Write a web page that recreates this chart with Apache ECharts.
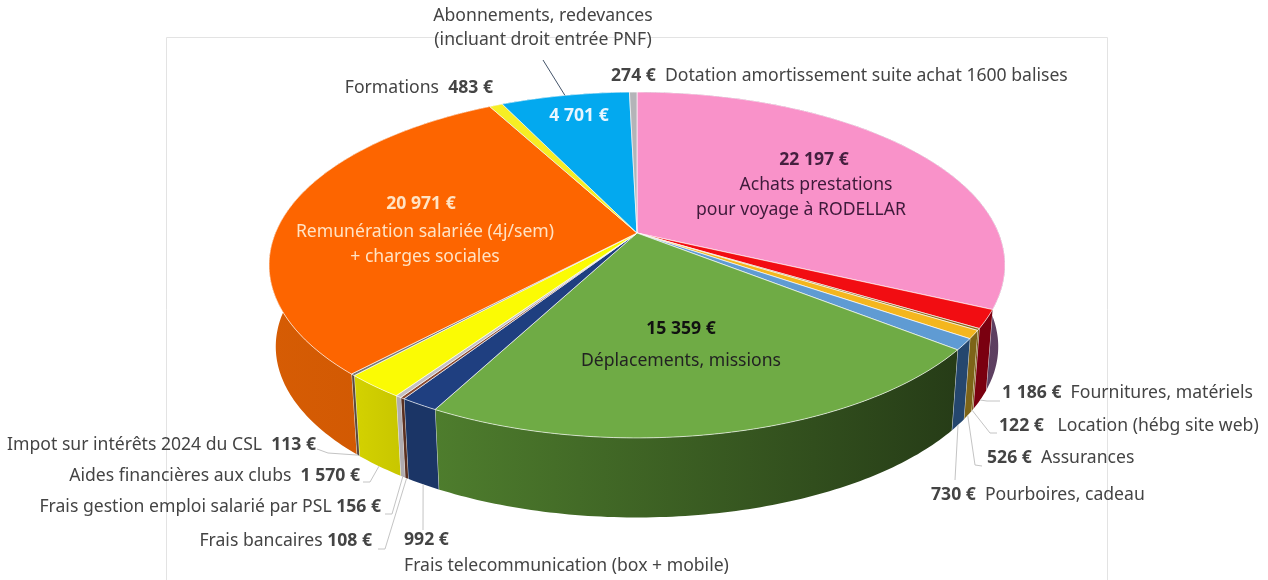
<!DOCTYPE html>
<html>
<head>
<meta charset="utf-8">
<style>
  html, body { margin: 0; background: #fff; }
  #main { width: 1268px; height: 580px; }
</style>
<script src="https://cdn.jsdelivr.net/npm/echarts@6/dist/echarts.min.js"></script>
</head>
<body>
<div id="main"></div>
<script>
// slices, clockwise from the top
const costNames = [
    ['Achats prestations', 'pour voyage à RODELLAR'],
    ['Fournitures, matériels'],
    ['Location (hébg site web)'],
    ['Assurances'],
    ['Pourboires, cadeau'],
    ['Déplacements, missions'],
    ['Frais telecommunication (box + mobile)'],
    ['Frais bancaires'],
    ['Frais gestion emploi salarié par PSL'],
    ['Aides financières aux clubs'],
    ['Impot sur intérêts 2024 du CSL'],
    ['Remunération salariée (4j/sem)', '+ charges sociales'],
    ['Formations'],
    ['Abonnements, redevances', '(incluant droit entrée PNF)'],
    ['Dotation amortissement suite achat 1600 balises']
];
const costValues = [22197, 1186, 122, 526, 730, 15359, 992, 108, 156, 1570, 113, 20971, 483, 4701, 274];

const topColors = ['#f992c9', '#f20d12', '#8a6a1c', '#f4b61e', '#5f9bd3', '#6fab45', '#1f3f80', '#8a4a30',
    '#c4c0c4', '#fbfb04', '#777777', '#fd6500', '#f6ee24', '#03a9ef', '#b4b4b8'];
const wallColors = [
    ['#6e4f70', '#5d3f60'], ['#7a0010', '#7a0010'], ['#7a5c14', '#7a5c14'], ['#7d6418', '#7d6418'],
    ['#25476e', '#25476e'], ['#4e7d2d', '#263c17'], ['#1b3566', '#1b3566'], ['#5a3020', '#5a3020'],
    ['#b0acb0', '#b0acb0'], ['#d4d200', '#c8c600'], ['#5a4a40', '#5a4a40'], ['#d65c04', '#cc5602'],
    ['#c4bc10', '#c4bc10'], ['#0286c0', '#0286c0'], ['#909094', '#909094']
];

// projected disc: top face and (smaller, lower) bottom ring
const topRing = { x: 637, y: 233, rx: 361.6, ry: 167, k: 0.185 };
const baseRing = { x: 637, y: 315, rx: 355, ry: 165, k: 0.185 };

const total = costValues.reduce((a, b) => a + b, 0);
const startFrac = costValues.map((v, i) => costValues.slice(0, i).reduce((a, b) => a + b, 0) / total);

function ringPoint(ring, a) {
    const u = Math.sin(a), v = Math.cos(a), w = 1 + ring.k * v;
    return [ring.x + ring.rx * u / w, ring.y - ring.ry * v / w];
}

function arc(ring, a0, a1) {
    const n = Math.max(2, Math.ceil((a1 - a0) / 0.015));
    const pts = [];
    for (let i = 0; i <= n; i++) pts.push(ringPoint(ring, a0 + (a1 - a0) * i / n));
    return pts;
}

function sliceAngles(i, value) {
    const a0 = startFrac[i] * 2 * Math.PI;
    return [a0, a0 + value / total * 2 * Math.PI];
}

function renderWall(params, api) {
    const i = params.dataIndex;
    const [a0, a1] = sliceAngles(i, api.value(0));
    const pts = arc(topRing, a0, a1).concat(arc(baseRing, a0, a1).reverse());
    const fill = new echarts.graphic.LinearGradient(0, 0, 1, 0, [
        { offset: 0, color: wallColors[i][0] },
        { offset: 1, color: wallColors[i][1] }
    ]);
    return {
        type: 'group',
        children: [
            { type: 'polygon', shape: { points: pts }, style: { fill: wallColors[i][0] === wallColors[i][1] ? wallColors[i][0] : fill } },
            {
                type: 'polyline',
                shape: { points: [ringPoint(topRing, a1), ringPoint(baseRing, a1)] },
                style: { stroke: 'rgba(255,255,255,0.75)', lineWidth: 1, fill: 'none' }
            }
        ]
    };
}

function renderTop(params, api) {
    const i = params.dataIndex;
    const [a0, a1] = sliceAngles(i, api.value(0));
    const pts = [[topRing.x, topRing.y]].concat(arc(topRing, a0, a1));
    return {
        type: 'polygon',
        shape: { points: pts },
        style: { fill: topColors[i], stroke: 'rgba(255,255,255,0.8)', lineWidth: 0.8 }
    };
}

function euro(v) {
    return String(v).replace(/\B(?=(\d{3})+$)/g, ' ') + ' €';
}

const FONT = '"Noto Sans", sans-serif';
const DARK = '#444444';

// [slice, kind, gap, x, y, align, text colour]
const labelLayout = [
    [0, 'v', '', 814, 160, 'center', '#45203f'],
    [0, 'n0', '', 816, 185, 'center', '#3e1a3a'],
    [0, 'n1', '', 801, 210, 'center', '#3e1a3a'],
    [1, 'vn', '  ', 1002, 393, 'left', DARK],
    [2, 'vn', '   ', 999, 426, 'left', DARK],
    [3, 'vn', '  ', 987, 458, 'left', DARK],
    [4, 'vn', '  ', 931, 495, 'left', DARK],
    [5, 'v', '', 681, 329, 'center', '#111'],
    [5, 'n0', '', 681, 361, 'center', '#222'],
    [6, 'v', '', 404, 540, 'left', DARK],
    [6, 'n0', '', 404, 566, 'left', DARK],
    [7, 'nv', ' ', 372, 541, 'right', DARK],
    [8, 'nv', ' ', 381, 507, 'right', DARK],
    [9, 'nv', '  ', 360, 476, 'right', DARK],
    [10, 'nv', '  ', 316, 445, 'right', DARK],
    [11, 'v', '', 421, 204, 'center', '#ffe3c4'],
    [11, 'n0', '', 425, 232, 'center', '#ffe3c4'],
    [11, 'n1', '', 425, 257, 'center', '#ffe3c4'],
    [12, 'nv', '  ', 493, 88, 'right', DARK],
    [13, 'v', '', 579, 116, 'center', '#e8f6ff'],
    [13, 'n0', '', 543, 16, 'center', DARK],
    [13, 'n1', '', 543, 40, 'center', DARK],
    [14, 'vn', '  ', 611, 76, 'left', DARK]
];

function labelText(row) {
    const i = row[0], kind = row[1], gap = row[2];
    const v = '{b|' + euro(costValues[i]) + '}';
    const n = '{r|' + costNames[i][0] + '}';
    if (kind === 'v') return v;
    if (kind === 'n0') return n;
    if (kind === 'n1') return '{r|' + costNames[i][1] + '}';
    if (kind === 'vn') return v + '{r|' + gap + '}' + n;
    return n + '{r|' + gap + '}' + v;
}

const labels = labelLayout.map(row => ({
    type: 'text',
    x: row[3],
    y: row[4],
    z: 10,
    style: {
        text: labelText(row),
        align: row[5],
        verticalAlign: 'middle',
        rich: {
            b: { fontFamily: FONT, fontSize: 17.6, fontWeight: 700, fill: row[6] },
            r: { fontFamily: FONT, fontSize: 17.6, fill: row[6] }
        }
    }
}));

// leader lines: [slice, ring, elbow points from the label]
const leaderLayout = [
    [1, baseRing, [[1000, 401], [987, 401]]],
    [2, baseRing, [[997, 433], [990, 433]]],
    [3, baseRing, [[982, 466], [975, 465]]],
    [4, baseRing, [[955, 480]]],
    [6, baseRing, [[423, 530]]],
    [7, baseRing, [[378, 549], [385, 549]]],
    [8, baseRing, [[385, 514], [392, 514]]],
    [9, baseRing, [[363, 482], [370, 482]]],
    [10, baseRing, [[317, 449], [328, 453]]],
    [13, topRing, [[543, 60]]]
];

const leaders = leaderLayout.map(row => {
    const [a0, a1] = sliceAngles(row[0], costValues[row[0]]);
    return {
        type: 'polyline',
        z: 9,
        shape: { points: row[2].concat([ringPoint(row[1], (a0 + a1) / 2)]) },
        style: { stroke: row[0] === 13 ? '#44546a' : '#c4c4c4', lineWidth: 1, fill: 'none' }
    };
});

const chart = echarts.init(document.getElementById('main'));
chart.setOption({
    animation: false,
    backgroundColor: '#fff',
    graphic: [
        {
            type: 'rect',
            z: 0,
            shape: { x: 166.5, y: 37.5, width: 941, height: 560 },
            style: { fill: 'none', stroke: '#e3e3e3', lineWidth: 1 }
        }
    ].concat(leaders, labels),
    series: [
        { type: 'custom', coordinateSystem: 'none', z: 2, data: costValues.map(v => [v]), renderItem: renderWall, silent: true },
        { type: 'custom', coordinateSystem: 'none', z: 3, data: costValues.map(v => [v]), renderItem: renderTop, silent: true }
    ]
});
</script>
</body>
</html>
